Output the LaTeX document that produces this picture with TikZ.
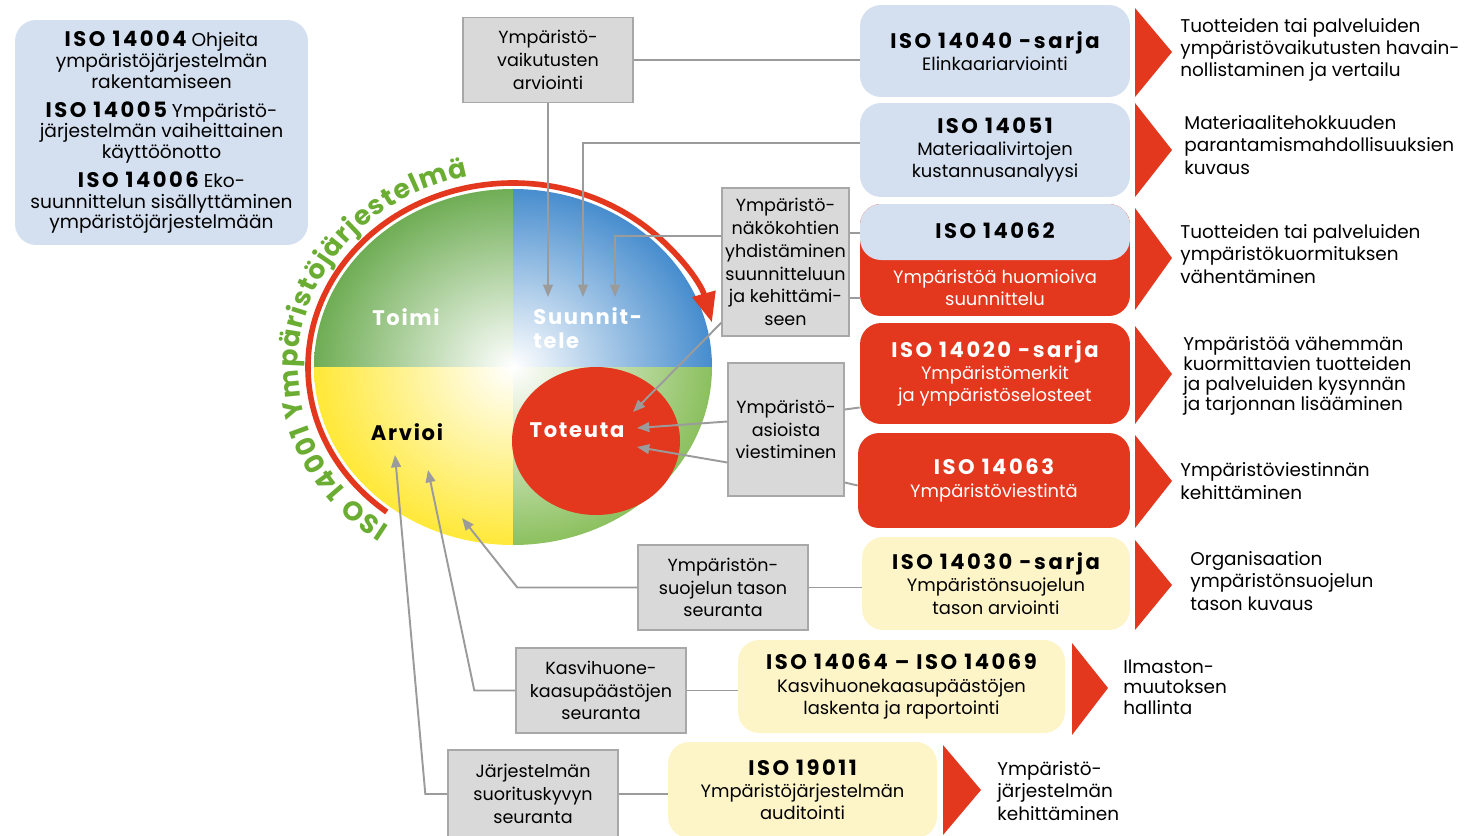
\documentclass[tikz,border=0pt]{standalone}
\usepackage{fontspec}
\setmainfont{Poppins}
\usetikzlibrary{arrows.meta, calc, decorations.text}

\definecolor{isoblue}{RGB}{212,224,240}
\definecolor{isored}{RGB}{227,55,30}
\definecolor{isoyellow}{RGB}{253,244,200}
\definecolor{boxgrey}{RGB}{217,217,217}
\definecolor{edgegrey}{RGB}{168,168,168}
\definecolor{linegrey}{RGB}{155,155,155}
\definecolor{isogreen}{RGB}{106,173,50}
\definecolor{toimigreen}{RGB}{70,150,36}
\definecolor{planblue}{RGB}{18,108,192}
\definecolor{checkyellow}{RGB}{255,226,0}
\definecolor{dogreen}{RGB}{106,174,48}

\newcommand{\isono}[1]{{\fontsize{12}{13}\selectfont\bfseries\addfontfeature{LetterSpace=12}#1}}

\tikzset{
  greybox/.style={draw=edgegrey, fill=boxgrey, line width=0.8pt, align=center, inner sep=1pt, font=\fontsize{10}{13}\selectfont},
  isobox/.style={rounded corners=12pt, align=center, inner sep=2pt, font=\fontsize{10.2}{12.6}\selectfont},
  link/.style={linegrey, line width=1.1pt},
  linkarrow/.style={link, -{Triangle[length=7pt,width=5.5pt]}},
  desc/.style={anchor=west, align=left, inner sep=0pt, font=\fontsize{10.5}{12.6}\selectfont},
  phase/.style={inner sep=0pt, font=\fontsize{12}{13.6}\selectfont\bfseries\addfontfeature{LetterSpace=8}}
}

\begin{document}
\begin{tikzpicture}[x=0.02cm, y=0.02cm]
\useasboundingbox (0,0) rectangle (1470,-835);

% guidance standards
\node[isobox, fill=isoblue, minimum width=5.86cm, minimum height=4.5cm, font=\fontsize{10.6}{11.7}\selectfont] (guide) at (161.5,-132.5)
  {\isono{ISO 14004} Ohjeita\\ympäristöjärjestelmän\\rakentamiseen\\[5pt]
   \isono{ISO 14005} Ympäristö-\\järjestelmän vaiheittainen\\käyttöönotto\\[5pt]
   \isono{ISO 14006} Eko-\\suunnittelun sisällyttäminen\\ympäristöjärjestelmään};

% PDCA circle
\coordinate (hub) at (513,-367);
\begin{scope}
  \clip (hub) ellipse [x radius=199, y radius=178];
  \begin{scope}
    \clip (hub) rectangle (300,-170);
    \shade[inner color=white, outer color=toimigreen] (hub) ellipse [x radius=255, y radius=230];
  \end{scope}
  \begin{scope}
    \clip (hub) rectangle (730,-170);
    \shade[inner color=white, outer color=planblue] (hub) ellipse [x radius=255, y radius=230];
  \end{scope}
  \begin{scope}
    \clip (hub) rectangle (300,-560);
    \shade[inner color=white, outer color=checkyellow] (hub) ellipse [x radius=255, y radius=230];
  \end{scope}
  \begin{scope}
    \clip (hub) rectangle (730,-560);
    \shade[inner color=white, outer color=dogreen] (hub) ellipse [x radius=255, y radius=230];
  \end{scope}
\end{scope}
\fill[isored] (596,-441) ellipse [x radius=84, y radius=74];

% cycle arrow and its title
\draw[isored, line width=3.2pt, -{Triangle[length=17pt,width=13pt]}]
  ($(hub)+(232:205 and 184)$) arc[start angle=232, end angle=14, x radius=205, y radius=184];
\path[decorate, decoration={text along path, text align=fit to path, text color=isogreen,
    text={|\fontsize{15.2}{15.2}\selectfont\bfseries|ISO 14001 Ympäristöjärjestelmä}}]
  ($(hub)+(235:215 and 195)$) arc[start angle=235, end angle=102, x radius=215, y radius=195];

\node[phase, white] (act) at (406,-317) {Toimi};
\node[phase, white, anchor=west, align=left] (plan) at (533,-328) {Suunnit-\\tele};
\node[phase] (check) at (407,-432) {Arvioi};
\node[phase, white] (do) at (577,-430) {Toteuta};

% tools
\node[greybox, minimum width=3.4cm, minimum height=1.7cm] (impact) at (548,-60) {Ympäristö-\\vaikutusten\\arviointi};
\node[greybox, minimum width=2.54cm, minimum height=2.96cm] (aspects) at (785.5,-262) {Ympäristö-\\näkökohtien\\yhdistäminen\\suunnitteluun\\ja kehittämi-\\seen};
\node[greybox, minimum width=2.32cm, minimum height=2.66cm] (comm) at (786,-429.5) {Ympäristö-\\asioista\\viestiminen};
\node[greybox, minimum width=3.4cm, minimum height=1.7cm] (perf) at (723,-587.5) {Ympäristön-\\suojelun tason\\seuranta};
\node[greybox, minimum width=3.4cm, minimum height=1.7cm] (ghg) at (601,-690.5) {Kasvihuone-\\kaasupäästöjen\\seuranta};
\node[greybox, minimum width=3.4cm, minimum height=1.76cm] (sysperf) at (533,-794) {Järjestelmän\\suorituskyvyn\\seuranta};

% standards
\node[isobox, fill=isoblue, minimum width=5.4cm, minimum height=1.84cm] (i40) at (995,-51) {\isono{ISO 14040 -sarja}\\Elinkaariarviointi};
\node[isobox, fill=isoblue, minimum width=5.4cm, minimum height=1.88cm] (i51) at (995,-150) {\isono{ISO 14051}\\Materiaalivirtojen\\kustannusanalyysi};
\node[isobox, fill=isored, minimum width=5.4cm, minimum height=2.24cm,
  path picture={\fill[isoblue] (path picture bounding box.north west) rectangle ([yshift=-1.12cm]path picture bounding box.north east);}] (i62) at (995,-260) {};
\node (i62t) at (995,-231) {\isono{ISO 14062}};
\node[white, align=center, font=\fontsize{10.2}{12.6}\selectfont] (i62s) at (995,-288) {Ympäristöä huomioiva\\suunnittelu};
\node[isobox, fill=isored, text=white, minimum width=5.4cm, minimum height=2.02cm] (i20) at (995,-373.5) {\isono{ISO 14020 -sarja}\\Ympäristömerkit\\ja ympäristöselosteet};
\node[isobox, fill=isored, text=white, minimum width=5.44cm, minimum height=1.9cm] (i63) at (994,-480.5) {\isono{ISO 14063}\\Ympäristöviestintä};
\node[isobox, fill=isoyellow, minimum width=5.36cm, minimum height=1.86cm] (i30) at (996,-583.5) {\isono{ISO 14030 -sarja}\\Ympäristönsuojelun\\tason arviointi};
\node[isobox, fill=isoyellow, minimum width=6.54cm, minimum height=1.86cm] (i64) at (901.5,-686.5) {\isono{ISO 14064 – ISO 14069}\\Kasvihuonekaasupäästöjen\\laskenta ja raportointi};
\node[isobox, fill=isoyellow, minimum width=5.38cm, minimum height=1.92cm] (i19) at (802.5,-790) {\isono{ISO 19011}\\Ympäristöjärjestelmän\\auditointi};

% arrow ends in the circle
\coordinate (p1) at (548,-297);
\coordinate (p2) at (583,-297);
\coordinate (p3) at (615,-297);
\coordinate (t1) at (633,-412);
\coordinate (t2) at (637,-428);
\coordinate (t3) at (637,-447);
\coordinate (a1) at (462,-518);
\coordinate (a2) at (428,-470);
\coordinate (a3) at (395,-455);

% connectors
\draw[link] (impact) -- (impact -| i40.west);
\draw[linkarrow] (impact.south) -- (p1);
\draw[linkarrow] ($(i51.west)+(0,7)$) -| (p2);
\draw[linkarrow] ($(aspects.west)+(0,26)$) -| (p3);
\draw[linkarrow] ($(aspects.south west)+(0,14)$) -- (t1);
\draw[link] ($(aspects.east)+(0,29)$) -- ($(i62.west)+(0,27)$);
\draw[link] ($(aspects.east)+(0,-36)$) -- ($(i62.west)+(0,-38)$);
\draw[linkarrow] ($(comm.west)+(0,8)$) -- (t2);
\draw[linkarrow] ($(comm.west)+(0,-33)$) -- (t3);
\draw[link] ($(comm.east)+(0,20)$) -- ($(i20.west)+(0,-34)$);
\draw[link] ($(comm.east)+(0,-53)$) -- ($(i63.west)+(0,-5)$);
\draw[linkarrow] (perf.west) -- ++(-120,0) -- (a1);
\draw[link] (perf.east) -- (perf.east -| i30.west);
\draw[linkarrow] (ghg.west) -- ++(-41,0) -- (a2);
\draw[link] (ghg.east) -- (ghg.east -| i64.west);
\draw[linkarrow] (sysperf.west) -- ++(-22,0) -- (a3);
\draw[link] (sysperf.east) -- (sysperf.east -| i19.west);

% red chevrons
\fill[isored] (1135,-8) -- (1172,-52) -- (1135,-97) -- cycle;
\fill[isored] (1135,-103) -- (1172,-150) -- (1135,-197) -- cycle;
\fill[isored] (1135,-208) -- (1172,-258) -- (1135,-310) -- cycle;
\fill[isored] (1135,-326) -- (1172,-374) -- (1135,-424) -- cycle;
\fill[isored] (1135,-435) -- (1172,-481) -- (1135,-528) -- cycle;
\fill[isored] (1135,-540) -- (1172,-585) -- (1135,-630) -- cycle;
\fill[isored] (1072,-643) -- (1108,-688) -- (1072,-735) -- cycle;
\fill[isored] (943,-745) -- (981,-790) -- (943,-835) -- cycle;

% outcomes
\node[desc] (d40) at (1180,-50) {Tuotteiden tai palveluiden\\ympäristövaikutusten havain-\\nollistaminen ja vertailu};
\node[desc] (d51) at (1184,-145) {Materiaalitehokkuuden\\parantamismahdollisuuksien\\kuvaus};
\node[desc] (d62) at (1180,-254) {Tuotteiden tai palveluiden\\ympäristökuormituksen\\vähentäminen};
\node[desc, font=\fontsize{10.5}{11.4}\selectfont] (d20) at (1183,-376) {Ympäristöä vähemmän\\kuormittavien tuotteiden\\ja palveluiden kysynnän\\ja tarjonnan lisääminen};
\node[desc] (d63) at (1180,-481) {Ympäristöviestinnän\\kehittäminen};
\node[desc] (d30) at (1190,-581) {Organisaation\\ympäristönsuojelun\\tason kuvaus};
\node[desc, font=\fontsize{10.5}{11.6}\selectfont] (d64) at (1123,-687) {Ilmaston-\\muutoksen\\hallinta};
\node[desc] (d19) at (997,-791) {Ympäristö-\\järjestelmän\\kehittäminen};
\end{tikzpicture}
\end{document}
